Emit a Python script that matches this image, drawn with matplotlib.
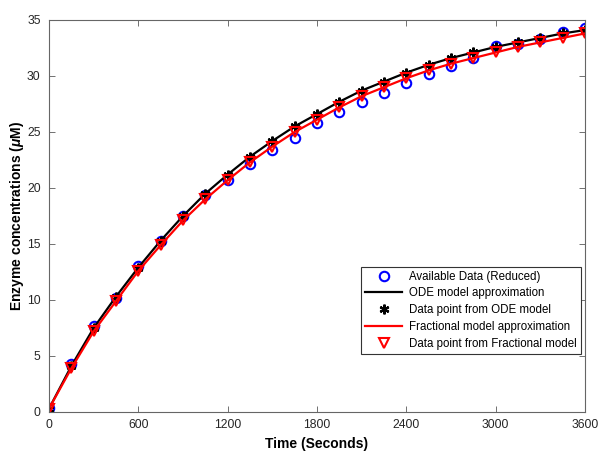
import matplotlib
matplotlib.use("Agg")
import matplotlib.pyplot as plt

plt.rcParams['font.family'] = ['Liberation Sans', 'DejaVu Sans']
plt.rcParams['mathtext.fontset'] = 'custom'
plt.rcParams['mathtext.it'] = 'Liberation Sans:italic:bold'
plt.rcParams['mathtext.rm'] = 'Liberation Sans:bold'

time = [0, 150, 300, 450, 600, 750, 900, 1050, 1200, 1350, 1500, 1650, 1800,
        1950, 2100, 2250, 2400, 2550, 2700, 2850, 3000, 3150, 3300, 3450, 3600]
available = [0.4, 4.3, 7.7, 10.2, 13.0, 15.3, 17.5, 19.4, 20.7, 22.1, 23.4, 24.5, 25.8,
             26.8, 27.7, 28.5, 29.4, 30.2, 30.9, 31.6, 32.7, 32.9, 33.3, 33.9, 34.3]
ode = [0.3, 4.1, 7.5, 10.3, 12.9, 15.3, 17.5, 19.5, 21.2, 22.8, 24.2, 25.5, 26.6,
       27.7, 28.7, 29.5, 30.3, 31.0, 31.6, 32.1, 32.6, 33.0, 33.4, 33.8, 34.1]
frac = [0.3, 3.9, 7.2, 9.9, 12.6, 14.9, 17.1, 19.0, 20.7, 22.3, 23.7, 25.0, 26.1,
        27.2, 28.2, 29.0, 29.8, 30.5, 31.1, 31.6, 32.1, 32.6, 33.0, 33.4, 33.8]
xticks = [0, 600, 1200, 1800, 2400, 3000, 3600]
yticks = [0, 5, 10, 15, 20, 25, 30, 35]

fig = plt.figure(figsize=(6.01, 4.55), dpi=100)
ax = fig.add_axes([49/601, 43/455, 536/601, 392/455])

ax.plot(time, available, linestyle='none', marker='o', markersize=6.8,
        markerfacecolor='none', markeredgecolor='blue', markeredgewidth=1.5,
        label='Available Data (Reduced)')
ax.plot(time, ode, color='black', linewidth=1.6, label='ODE model approximation')
ax.plot(time, ode, linestyle='none', marker=(6, 2, 0), markersize=7,
        color='black', markeredgewidth=1.6, label='Data point from ODE model')
ax.plot(time, frac, color='red', linewidth=1.6, label='Fractional model approximation')
ax.plot(time, frac, linestyle='none', marker='v', markersize=7,
        markerfacecolor='none', markeredgecolor='red', markeredgewidth=1.5,
        label='Data point from Fractional model')

ax.set_xlim(0, 3600)
ax.set_ylim(0, 35)
ax.set_xticks(xticks)
ax.set_yticks(yticks)
ax.tick_params(direction='in', top=True, right=True, length=4, width=0.6,
               color='0.35', labelcolor='0.15', labelsize=8.7)
ax.tick_params(axis='y', pad=6)
ax.tick_params(axis='x', pad=5)
for s in ax.spines.values():
    s.set_color('0.4')
    s.set_linewidth(0.8)

ax.set_xlabel('Time (Seconds)', fontsize=10, fontweight='bold', labelpad=4.5)
ax.set_ylabel(r'Enzyme concentrations ($\mu$M)', fontsize=10, fontweight='bold', labelpad=1)

leg = ax.legend(loc='lower right', bbox_to_anchor=(0.9925, 0.148), fontsize=8.3,
                frameon=True, fancybox=False, edgecolor='0.2', framealpha=1,
                handlelength=3.2, borderpad=0.35, labelspacing=0.42, handletextpad=0.6,
                borderaxespad=0)
leg.get_frame().set_linewidth(0.8)

fig.savefig('out.png', dpi=100)
